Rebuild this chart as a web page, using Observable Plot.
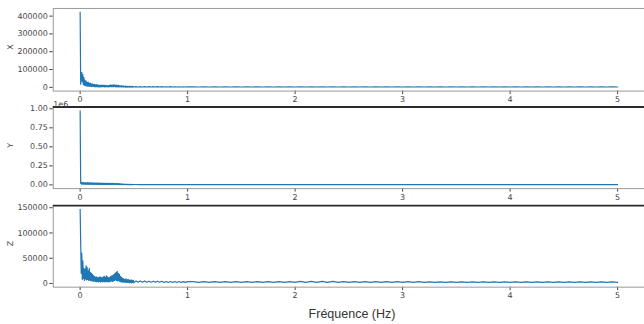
<!DOCTYPE html>
<html>
<head>
<meta charset="utf-8">
<script src="https://cdn.jsdelivr.net/npm/d3@7"></script>
<script src="https://cdn.jsdelivr.net/npm/@observablehq/plot@0.6"></script>
<style>
  html, body { margin: 0; padding: 0; background: #fff; overflow: hidden; }
  #chart { position: relative; width: 644px; height: 324px; overflow: hidden; background: #fff; }
  #chart svg { position: absolute; left: 0; top: 0; }
  #xlabel { position: absolute; top: 307px; left: 352px; transform: translateX(-50%);
            font-family: "Liberation Sans", Arial, sans-serif; font-size: 12.5px; color: #333; white-space: nowrap; }
</style>
</head>
<body>
<div id="chart"><div id="xlabel">Fréquence (Hz)</div></div>
<script>
// Frequency grid (Hz)
const freq = [
  0,0.005,0.01,0.015,0.02,0.025,0.03,0.035,0.04,0.045,
  0.05,0.055,0.06,0.065,0.07,0.075,0.08,0.085,0.09,0.095,
  0.1,0.105,0.11,0.115,0.12,0.125,0.13,0.135,0.14,0.145,
  0.15,0.155,0.16,0.165,0.17,0.175,0.18,0.185,0.19,0.195,
  0.2,0.205,0.21,0.215,0.22,0.225,0.23,0.235,0.24,0.245,
  0.25,0.255,0.26,0.265,0.27,0.275,0.28,0.285,0.29,0.295,
  0.3,0.305,0.31,0.315,0.32,0.325,0.33,0.335,0.34,0.345,
  0.35,0.355,0.36,0.365,0.37,0.375,0.38,0.385,0.39,0.395,
  0.4,0.405,0.41,0.415,0.42,0.425,0.43,0.435,0.44,0.445,
  0.45,0.455,0.46,0.465,0.47,0.475,0.48,0.485,0.49,0.495,
  0.5,
  0.52,0.54,0.56,0.58,0.6,0.62,0.64,0.66,0.68,0.7,
  0.72,0.74,0.76,0.78,0.8,0.82,0.84,0.86,0.88,0.9,
  0.92,0.94,0.96,0.98,1.0,
  1.05,1.1,1.15,1.2,1.25,1.3,1.35,1.4,1.45,1.5,
  1.55,1.6,1.65,1.7,1.75,1.8,1.85,1.9,1.95,2.0,
  2.05,2.1,2.15,2.2,2.25,2.3,2.35,2.4,2.45,2.5,
  2.55,2.6,2.65,2.7,2.75,2.8,2.85,2.9,2.95,3.0,
  3.05,3.1,3.15,3.2,3.25,3.3,3.35,3.4,3.45,3.5,
  3.55,3.6,3.65,3.7,3.75,3.8,3.85,3.9,3.95,4.0,
  4.05,4.1,4.15,4.2,4.25,4.3,4.35,4.4,4.45,4.5,
  4.55,4.6,4.65,4.7,4.75,4.8,4.85,4.9,4.95,5.0
];

// Amplitude spectrum, axis X
const ampX = [
  422000,18000,62000,84000,30000,72000,15000,55000,12000,40000,
  9000,35000,8000,28000,6000,30000,7000,22000,5000,24000,
  6000,18000,4000,20000,5000,15000,4000,17000,3000,14000,
  4000,16000,3000,12000,3000,13000,2000,11000,3000,12000,
  3000,13000,4000,11000,3000,12000,2000,10000,4000,11000,
  3000,9000,2000,10000,3000,12000,4000,14000,3000,11000,
  4000,13000,3000,15000,4000,12000,3000,13000,2000,10000,
  3000,12000,2000,9000,3000,8000,2000,9000,2000,7000,
  2000,8000,2000,6000,1000,7000,2000,6000,1000,5000,
  2000,6000,1000,5000,2000,5000,1000,6000,2000,4000,
  2000,
  3500,2000,4000,2000,3500,2000,4000,2000,3500,2000,
  3500,2000,3500,2000,3000,2000,3500,2000,3000,2000,
  3000,2000,3000,2000,3000,
  2500,2000,2500,2000,2500,2000,2500,2000,2500,2000,
  2500,2000,2500,2000,2500,2000,2500,2000,2500,2000,
  2500,2000,2500,2000,2500,2000,2500,2000,2500,2000,
  2500,2000,2500,2000,2500,2000,2500,2000,2500,2000,
  2500,2000,2500,2000,2500,2000,2500,2000,2500,2000,
  2500,2000,2500,2000,2500,2000,2500,2000,2500,2000,
  2500,2000,2500,2000,2500,2000,2500,2000,2500,2000,
  2500,2000,2500,2000,2500,2000,2500,2000,2500,2000
];

// Amplitude spectrum, axis Y
const ampY = [
  975000,20000,35000,8000,30000,10000,32000,6000,28000,9000,
  30000,7000,27000,8000,31000,6000,26000,9000,29000,7000,
  25000,8000,28000,6000,24000,7000,27000,5000,23000,8000,
  26000,6000,22000,7000,25000,5000,21000,6000,24000,5000,
  22000,6000,20000,5000,23000,6000,19000,5000,21000,6000,
  20000,5000,22000,6000,18000,5000,21000,6000,19000,5000,
  20000,6000,18000,5000,19000,6000,17000,5000,18000,4000,
  17000,5000,16000,4000,15000,5000,14000,4000,12000,4000,
  10000,4000,9000,3000,8000,4000,8000,3000,7000,3000,
  7000,3000,6000,3000,7000,3000,6000,2000,6000,3000,
  5000,
  5000,3000,5000,3000,5000,3000,5000,3000,5000,3000,
  5000,3000,5000,3000,5000,3000,5000,3000,5000,3000,
  5000,3000,5000,3000,5000,
  4000,3000,4000,3000,4000,3000,4000,3000,4000,3000,
  4000,3000,4000,3000,4000,3000,4000,3000,4000,3000,
  4000,3000,4000,3000,4000,3000,4000,3000,4000,3000,
  4000,3000,4000,3000,4000,3000,4000,3000,4000,3000,
  4000,3000,4000,3000,4000,3000,4000,3000,4000,3000,
  4000,3000,4000,3000,4000,3000,4000,3000,4000,3000,
  4000,3000,4000,3000,4000,3000,4000,3000,4000,3000,
  4000,3000,4000,3000,4000,3000,4000,3000,4000,3000
];

// Amplitude spectrum, axis Z
const ampZ = [
  147000,83000,20000,60000,8000,45000,10000,30000,6000,28000,
  9000,35000,7000,32000,8000,25000,6000,30000,7000,22000,
  5000,20000,6000,18000,4000,15000,5000,14000,4000,12000,
  3000,13000,4000,11000,3000,12000,4000,13000,3000,12000,
  4000,11000,3000,13000,4000,14000,3000,12000,4000,15000,
  3000,13000,4000,11000,3000,12000,4000,14000,5000,15000,
  4000,16000,5000,18000,6000,20000,7000,22000,6000,24000,
  5000,20000,6000,18000,4000,14000,3000,12000,3000,10000,
  2000,9000,3000,8000,2000,9000,2000,7000,2000,8000,
  2000,7000,1000,6000,2000,7000,1000,6000,2000,6000,
  1000,
  5000,2500,5000,2500,5000,2500,4500,2500,4500,2500,
  4500,2500,4500,2000,4000,2000,4000,2000,4000,2000,
  4000,2000,3500,2000,3500,
  3500,2000,3500,2000,3500,2000,3500,2000,3500,2000,
  3500,2000,3500,2000,3500,2000,3500,2000,3500,2000,
  4000,2000,4000,2000,4000,2000,4000,2000,3500,2000,
  3500,2000,3500,2000,3500,2000,3500,2000,3500,2000,
  3500,2000,3500,2000,3000,2000,3000,2000,3000,2000,
  3000,2000,3000,2000,3000,2000,3000,2000,3000,2000,
  3000,2000,3000,2000,3000,2000,3000,2000,3000,2000,
  3000,2000,3000,2000,3000,2000,3000,2000,3000,2000
];

const xTicks = [0, 1, 2, 3, 4, 5];
const yTicksX = [0, 100000, 200000, 300000, 400000];
const yTicksY = [0, 250000, 500000, 750000, 1000000];
const yTicksZ = [0, 50000, 100000, 150000];
const panelLabels = ["X", "Y", "Z"];

const rows = (amp) => freq.map((f, i) => ({f, v: amp[i]}));

function panel({amp, yDomain, yTicks, yFormat, label, top, bottom, darkTop, offsetText}) {
  const marks = [
    Plot.frame({stroke: "#9a9a9a", strokeWidth: 1}),
    Plot.line(rows(amp), {x: "f", y: "v", stroke: "#1f77b4", strokeWidth: 1.2}),
    Plot.text([label], {frameAnchor: "left", text: d => d, dx: -43, rotate: -90, fontSize: 8, fill: "#444"})
  ];
  if (darkTop) marks.push(Plot.ruleY([yDomain[1]], {stroke: "#2a2a2a", strokeWidth: 1.8}));
  if (offsetText) marks.push(Plot.text([offsetText], {frameAnchor: "top-left", text: d => d, textAnchor: "start", dy: -6, fontSize: 8, fill: "#444"}));
  return Plot.plot({
    width: 647, height: 324,
    marginLeft: 53, marginRight: 0, marginTop: top, marginBottom: 324 - bottom,
    style: {background: "transparent", fontFamily: "DejaVu Sans", fontSize: "8px", color: "#444", overflow: "visible"},
    x: {domain: [-0.25, 5.25], ticks: xTicks, tickFormat: d3.format("d"), tickSize: 3.5, tickPadding: 2, label: null},
    y: {domain: yDomain, ticks: yTicks, tickFormat: yFormat, tickSize: 3.5, tickPadding: 2, label: null},
    marks
  });
}

const chart = document.getElementById("chart");
chart.append(panel({amp: ampX, yDomain: [-21000, 443000], yTicks: yTicksX, yFormat: d3.format("d"),
  label: panelLabels[0], top: 8, bottom: 91, darkTop: false}));
chart.append(panel({amp: ampY, yDomain: [-49000, 1024000], yTicks: yTicksY, yFormat: d => (d / 1e6).toFixed(2),
  label: panelLabels[1], top: 107, bottom: 189, darkTop: true, offsetText: "1e6"}));
chart.append(panel({amp: ampZ, yDomain: [-7350, 154350], yTicks: yTicksZ, yFormat: d3.format("d"),
  label: panelLabels[2], top: 206, bottom: 288, darkTop: true}));
</script>
</body>
</html>
